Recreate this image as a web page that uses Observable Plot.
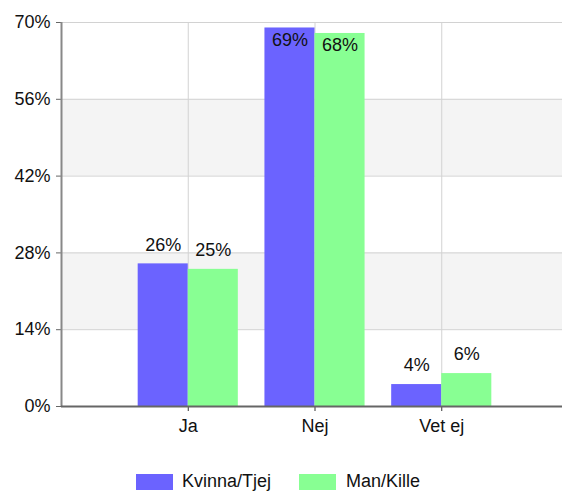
<!DOCTYPE html>
<html>
<head>
<meta charset="utf-8">
<script src="https://cdn.jsdelivr.net/npm/d3@7"></script>
<script src="https://cdn.jsdelivr.net/npm/@observablehq/plot@0.6"></script>
<style>
  html, body { margin: 0; padding: 0; background: #fff; }
  body { width: 562px; font-family: "Liberation Sans", Arial, sans-serif; }
  #legend { position: relative; height: 42px; font-size: 18px; color: #111; }
  .sw { position: absolute; top: 24px; width: 37px; height: 16px; }
  .lt { position: absolute; top: 22px; line-height: 18px; height: 18px; white-space: nowrap; }
</style>
</head>
<body>
<div id="chart"></div>
<div id="legend"></div>
<script>
const categories = ["Ja", "Nej", "Vet ej"];
const series = ["Kvinna/Tjej", "Man/Kille"];
const kvinna = [26, 69, 4];
const man = [25, 68, 6];
const yTicks = [0, 14, 28, 42, 56, 70];
const shadedBands = [[14, 28], [42, 56]];
const colors = ["#6b63ff", "#88ff93"];

const values = [kvinna, man];
const data = categories.flatMap((c, i) =>
  series.map((s, k) => ({cat: c, i, series: s, k, value: values[k][i]}))
);
const w = 0.395;

const chart = Plot.plot({
  width: 562,
  height: 450,
  marginLeft: 61,
  marginRight: 0,
  marginTop: 22,
  marginBottom: 44,
  style: {fontFamily: "Liberation Sans, Arial, sans-serif", fontSize: "18px", color: "#111", background: "#fff"},
  x: {type: "linear", domain: [-1, 3], range: [61, 568]},
  y: {domain: [0, 70], range: [406, 22]},
  color: {domain: series, range: colors},
  marks: [
    Plot.rectY(shadedBands, {x1: () => -1, x2: () => 3, y1: d => d[0], y2: d => d[1], fill: "#f4f4f4"}),
    Plot.ruleY(yTicks, {stroke: "#d2d2d2", strokeWidth: 1}),
    Plot.ruleX([0, 1, 2], {stroke: "#d2d2d2", strokeWidth: 1}),
    Plot.rectY(data, {
      x1: d => d.i + (d.k - 1) * w,
      x2: d => d.i + d.k * w,
      y1: 0,
      y2: "value",
      fill: "series"
    }),
    Plot.text(data, {
      x: d => d.i + (d.k - 0.5) * w,
      y: "value",
      text: d => d.value + "%",
      fill: "#111",
      fontSize: 18,
      filter: d => d.value < 60,
      dy: -19
    }),
    Plot.text(data, {
      x: d => d.i + (d.k - 0.5) * w,
      y: "value",
      text: d => d.value + "%",
      fill: "#111",
      fontSize: 18,
      filter: d => d.value >= 60,
      dy: 12
    }),
    Plot.axisY({ticks: yTicks, tickFormat: d => d + "%", tickSize: 5, tickPadding: 6, label: null, stroke: "#666", fontSize: 18}),
    Plot.axisX({ticks: [0, 1, 2], tickFormat: i => categories[i], tickSize: 5, tickPadding: 8, label: null, stroke: "#333", fontSize: 18}),
    Plot.ruleX([-1], {stroke: "#888", strokeWidth: 2}),
    Plot.ruleY([0], {stroke: "#666", strokeWidth: 2})
  ]
});
document.getElementById("chart").appendChild(chart);

const legend = document.getElementById("legend");
const swLeft = [136, 299];
const txLeft = [182, 346];
series.forEach((s, k) => {
  const sw = document.createElement("div");
  sw.className = "sw";
  sw.style.left = swLeft[k] + "px";
  sw.style.background = colors[k];
  legend.appendChild(sw);
  const t = document.createElement("div");
  t.className = "lt";
  t.style.left = txLeft[k] + "px";
  t.textContent = s;
  legend.appendChild(t);
});
</script>
</body>
</html>
